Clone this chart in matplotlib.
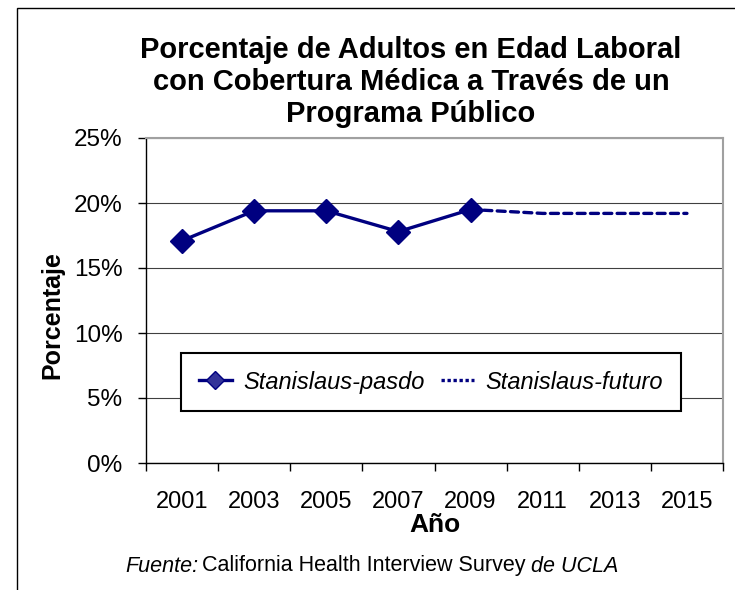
import numpy as np
import matplotlib
matplotlib.use('Agg')
import matplotlib.pyplot as plt
from matplotlib.patches import Rectangle
from matplotlib.lines import Line2D
from matplotlib.ticker import FixedLocator, FuncFormatter

plt.rcParams['font.family'] = ['Liberation Sans', 'DejaVu Sans']

# Datos
anios = ['2001', '2003', '2005', '2007', '2009', '2011', '2013', '2015']
pasado = [17.1, 19.4, 19.4, 17.8, 19.5, np.nan, np.nan, np.nan]
futuro = [np.nan, np.nan, np.nan, np.nan, 19.5, 19.2, 19.2, 19.2]
titulo = ['Porcentaje de Adultos en Edad Laboral',
          'con Cobertura Médica a Través de un',
          'Programa Público']

navy = '#000080'
W, H = 735, 590

fig = plt.figure(figsize=(7.35, 5.9), dpi=100)
ax = fig.add_axes([146 / W, 1 - 463 / H, 577 / W, 325 / H])

x = np.arange(len(anios))
ax.plot(x, pasado, color=navy, lw=2.4, marker='D', markersize=12,
        markerfacecolor=navy, markeredgecolor=navy, zorder=4)
ax.plot(x, futuro, color=navy, lw=2.4, dashes=(2.4, 1.6), dash_capstyle='round', zorder=3)

ax.set_xlim(-0.5, len(anios) - 0.5)
ax.set_ylim(0, 25)
ax.set_yticks(np.arange(0, 26, 5))
ax.yaxis.set_major_formatter(FuncFormatter(lambda v, p: '%d%%' % v))
ax.set_xticks(x)
ax.set_xticklabels(anios)
ax.xaxis.set_minor_locator(FixedLocator(np.arange(-0.5, len(anios), 1)))
ax.tick_params(axis='x', which='major', length=0, pad=20, labelsize=17)
ax.tick_params(axis='x', which='minor', length=6, width=1, color='black', direction='out')
ax.tick_params(axis='y', length=6, width=1, color='black', labelsize=17.5, pad=11)

ax.grid(axis='y', color='#000000', lw=0.8, alpha=0.75)
ax.set_axisbelow(True)
for s in ['top', 'right']:
    ax.spines[s].set_color('#a0a0a0')
    ax.spines[s].set_linewidth(1.5)
for s in ['left', 'bottom']:
    ax.spines[s].set_color('black')
    ax.spines[s].set_linewidth(1.0)

ax.set_xlabel('Año', fontsize=19, fontweight='bold', labelpad=0)
fig.text(52 / W, 1 - 315 / H, 'Porcentaje', rotation=90, ha='center', va='center',
         fontsize=18, fontweight='bold')

# leyenda
h_pasado = Line2D([], [], color=navy, lw=2.4, marker='D', markersize=9,
                  markerfacecolor='#333399', markeredgecolor=navy)
h_futuro = Line2D([], [], color=navy, lw=2.4, dashes=(1.0, 0.8))
leg = ax.legend([h_pasado, h_futuro], ['Stanislaus-pasdo', 'Stanislaus-futuro'],
                loc='center', ncol=2, bbox_to_anchor=(0.0607, 0.16, 0.866, 0.178),
                mode='expand', fancybox=False, edgecolor='black', framealpha=1,
                prop={'style': 'italic', 'size': 17}, handlelength=1.4,
                handletextpad=0.5, columnspacing=0.4, borderpad=0.75, borderaxespad=0)
leg.get_frame().set_linewidth(1.5)

# titulo
for i, linea in enumerate(titulo):
    fig.text(411 / W, 1 - (58 + 32 * i) / H, linea, ha='center', va='baseline',
             fontsize=21, fontweight='bold')

# Fuente
y_src = 1 - 566 / H
t1 = fig.text(125 / W, y_src, 'Fuente:', fontsize=15.5, style='italic', va='center')
fig.canvas.draw()
r = fig.canvas.get_renderer()
bb = t1.get_window_extent(r)
t2 = fig.text((bb.x1 + 4) / W, y_src, 'California Health Interview Survey', fontsize=15.5, va='center')
bb2 = t2.get_window_extent(r)
fig.text((bb2.x1 + 5) / W, y_src, 'de UCLA', fontsize=15.5, style='italic', va='center')

# marco de la figura
fig.patches.append(Rectangle((17 / W, -0.1), 1.2, 1 - 8 / H + 0.1, transform=fig.transFigure,
                             fill=False, edgecolor='black', lw=1.0))

fig.savefig('out.png', dpi=100)
